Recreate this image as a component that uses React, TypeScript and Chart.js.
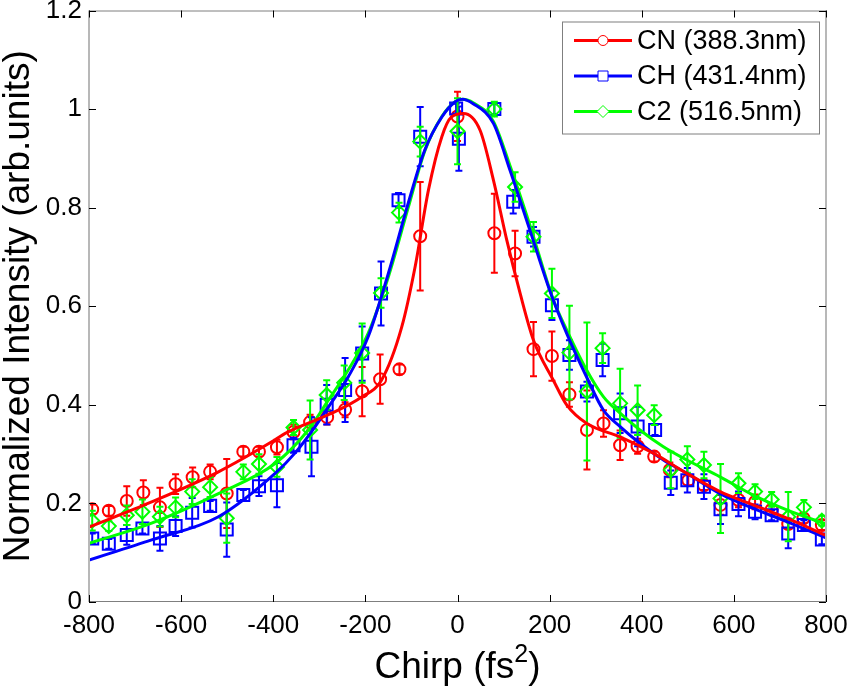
import React, { useEffect, useRef } from "react";
import Chart from "chart.js/auto";

// Measured points (chirp in fs^2, normalized intensity) with their error bars
const cnChirp = [-793, -757, -718, -682, -646, -612, -575, -537, -501, -465, -431, -392, -356, -320, -283, -244, -207, -168, -126, -81, 0, 80, 125, 165, 205, 243, 281, 317, 353, 391, 427, 461, 501, 535, 571, 610, 646, 682, 718, 751, 791];
const cnValues = [0.188, 0.185, 0.205, 0.222, 0.192, 0.239, 0.253, 0.264, 0.22, 0.305, 0.305, 0.314, 0.345, 0.365, 0.375, 0.39, 0.427, 0.452, 0.472, 0.742, 0.985, 0.748, 0.707, 0.513, 0.499, 0.421, 0.349, 0.362, 0.318, 0.316, 0.295, 0.268, 0.247, 0.237, 0.197, 0.207, 0.203, 0.187, 0.158, 0.17, 0.156];
const cnErrors = [0.01, 0.01, 0.03, 0.025, 0.04, 0.02, 0.02, 0.015, 0.07, 0.01, 0.01, 0.015, 0.015, 0.015, 0.015, 0.015, 0.05, 0.05, 0.01, 0.11, 0.05, 0.08, 0.046, 0.055, 0.05, 0.025, 0.08, 0.027, 0.03, 0.015, 0.01, 0.015, 0.01, 0.01, 0.02, 0.015, 0.015, 0.01, 0.01, 0.01, 0.01];

const chChirp = [-793, -757, -718, -684, -646, -612, -576, -537, -501, -465, -431, -392, -356, -317, -284, -244, -207, -166, -128, -81, -3, 3, 80, 121, 165, 205, 243, 281, 315, 353, 391, 429, 463, 499, 535, 571, 610, 646, 682, 718, 752, 791];
const chValues = [0.129, 0.118, 0.136, 0.149, 0.129, 0.154, 0.181, 0.195, 0.147, 0.217, 0.235, 0.237, 0.318, 0.315, 0.4, 0.43, 0.504, 0.626, 0.815, 0.944, 1.001, 0.94, 1.0, 0.812, 0.741, 0.602, 0.501, 0.427, 0.491, 0.383, 0.356, 0.349, 0.242, 0.247, 0.234, 0.188, 0.199, 0.183, 0.176, 0.139, 0.156, 0.127];
const chErrors = [0.01, 0.01, 0.02, 0.01, 0.025, 0.02, 0.03, 0.01, 0.055, 0.01, 0.02, 0.045, 0.015, 0.06, 0.04, 0.065, 0.055, 0.065, 0.015, 0.06, 0.01, 0.065, 0.01, 0.024, 0.02, 0.03, 0.03, 0.02, 0.033, 0.04, 0.04, 0.01, 0.025, 0.025, 0.025, 0.03, 0.025, 0.015, 0.01, 0.03, 0.01, 0.01];

const c2Chirp = [-793, -757, -718, -684, -646, -612, -576, -537, -501, -465, -431, -392, -356, -320, -284, -246, -207, -166, -127, -81, 0, 80, 125, 165, 205, 243, 281, 315, 353, 391, 427, 463, 499, 535, 571, 610, 646, 682, 718, 752, 791];
const c2Values = [0.165, 0.154, 0.176, 0.183, 0.173, 0.192, 0.224, 0.233, 0.17, 0.264, 0.28, 0.274, 0.354, 0.349, 0.42, 0.445, 0.505, 0.627, 0.79, 0.934, 0.955, 1.0, 0.842, 0.741, 0.626, 0.506, 0.427, 0.515, 0.403, 0.389, 0.379, 0.268, 0.289, 0.278, 0.21, 0.241, 0.224, 0.208, 0.173, 0.192, 0.165];
const c2Errors = [0.02, 0.01, 0.02, 0.025, 0.02, 0.02, 0.025, 0.02, 0.05, 0.015, 0.02, 0.02, 0.015, 0.06, 0.03, 0.035, 0.06, 0.03, 0.02, 0.03, 0.067, 0.015, 0.03, 0.03, 0.05, 0.095, 0.14, 0.03, 0.07, 0.05, 0.02, 0.037, 0.027, 0.027, 0.07, 0.02, 0.015, 0.015, 0.05, 0.015, 0.01];

// Fitted curves
const cnFitChirp = [-800, -664, -519, -396, -374, -273, -208, -165, -121, -92, -63, -34, -13, 13, 49, 78, 107, 136, 165, 208, 237, 281, 353, 425, 498, 570, 642, 715, 800];
const cnFitValues = [0.152, 0.203, 0.264, 0.329, 0.342, 0.383, 0.416, 0.45, 0.558, 0.68, 0.836, 0.944, 0.984, 0.991, 0.957, 0.856, 0.734, 0.626, 0.531, 0.45, 0.4, 0.362, 0.335, 0.302, 0.261, 0.224, 0.197, 0.17, 0.135];

const chFitChirp = [-800, -664, -519, -396, -353, -309, -280, -237, -194, -150, -107, -71, -34, -5, 10, 34, 78, 114, 157, 201, 237, 280, 317, 353, 396, 447, 498, 570, 642, 715, 800];
const chFitValues = [0.085, 0.126, 0.173, 0.261, 0.302, 0.356, 0.396, 0.457, 0.538, 0.667, 0.809, 0.917, 0.984, 1.015, 1.02, 1.011, 0.971, 0.876, 0.755, 0.63, 0.545, 0.457, 0.389, 0.356, 0.322, 0.288, 0.261, 0.22, 0.19, 0.163, 0.13];

const c2FitChirp = [-800, -664, -519, -396, -324, -280, -237, -194, -150, -107, -71, -34, -5, 12, 34, 78, 114, 157, 208, 237, 280, 317, 353, 396, 447, 498, 570, 642, 715, 800];
const c2FitValues = [0.119, 0.16, 0.22, 0.281, 0.349, 0.41, 0.471, 0.545, 0.66, 0.8, 0.915, 0.985, 1.015, 1.02, 1.013, 0.975, 0.885, 0.765, 0.613, 0.552, 0.471, 0.416, 0.383, 0.349, 0.315, 0.288, 0.254, 0.217, 0.187, 0.158];

const seriesLabels = ["CN (388.3nm)", "CH (431.4nm)", "C2 (516.5nm)"];
const seriesColors = ["#ff0000", "#0000ff", "#00ff00"];
const seriesMarkers = ["circle", "rect", "rectRot"];

const FONT = "'Liberation Sans', Arial, Helvetica, sans-serif";

function toPoints(xs: number[], ys: number[]) {
  return xs.map((x, i) => ({ x, y: ys[i] }));
}

// MATLAB-style vertical error bars, drawn just under each marker dataset
const errorBarPlugin = {
  id: "errorBars",
  beforeDatasetDraw(chart: any, args: any) {
    const ds = chart.data.datasets[args.index];
    if (!ds.errors) return;
    const { ctx } = chart;
    const xs = chart.scales.x;
    const ys = chart.scales.y;
    ctx.save();
    ctx.strokeStyle = ds.borderColor;
    ctx.lineWidth = 2;
    ds.data.forEach((p: { x: number; y: number }, i: number) => {
      const e = ds.errors[i];
      const px = xs.getPixelForValue(p.x);
      const top = ys.getPixelForValue(p.y + e);
      const bot = ys.getPixelForValue(p.y - e);
      ctx.beginPath();
      ctx.moveTo(px, top);
      ctx.lineTo(px, bot);
      ctx.moveTo(px - 3.5, top);
      ctx.lineTo(px + 3.5, top);
      ctx.moveTo(px - 3.5, bot);
      ctx.lineTo(px + 3.5, bot);
      ctx.stroke();
    });
    ctx.restore();
  },
};

// Box around the axes with inward ticks on all four sides
const axesBoxPlugin = {
  id: "axesBox",
  afterDatasetsDraw(chart: any) {
    const { ctx, chartArea: a } = chart;
    const xs = chart.scales.x;
    const ys = chart.scales.y;
    ctx.save();
    ctx.strokeStyle = "#b8b8b8";
    ctx.lineWidth = 2;
    ctx.beginPath();
    ctx.moveTo(a.left, a.top);
    ctx.lineTo(a.left, a.bottom);
    ctx.moveTo(a.right, a.top);
    ctx.lineTo(a.right, a.bottom);
    ctx.stroke();
    ctx.strokeStyle = "#7f7f7f";
    ctx.lineWidth = 1;
    ctx.beginPath();
    ctx.moveTo(a.left, a.top + 0.5);
    ctx.lineTo(a.right, a.top + 0.5);
    ctx.moveTo(a.left, a.bottom - 0.5);
    ctx.lineTo(a.right, a.bottom - 0.5);
    ctx.stroke();
    ctx.strokeStyle = "#000";
    ctx.beginPath();
    const len = 7;
    xs.ticks.forEach((t: any) => {
      const px = Math.round(xs.getPixelForValue(t.value)) + 0.5;
      ctx.moveTo(px, a.bottom);
      ctx.lineTo(px, a.bottom - len);
      ctx.moveTo(px, a.top);
      ctx.lineTo(px, a.top + len);
    });
    ys.ticks.forEach((t: any) => {
      const py = Math.round(ys.getPixelForValue(t.value)) + 0.5;
      ctx.moveTo(a.left, py);
      ctx.lineTo(a.left + len, py);
      ctx.moveTo(a.right, py);
      ctx.lineTo(a.right - len, py);
    });
    ctx.stroke();
    ctx.restore();
  },
};

// x-axis title with a real raised superscript, centred under the plot
const xTitlePlugin = {
  id: "xTitle",
  afterDraw(chart: any) {
    const { ctx, chartArea: a } = chart;
    const main = `37px ${FONT}`;
    const sup = `25px ${FONT}`;
    const parts = [
      { text: "Chirp (fs", font: main, dy: 0 },
      { text: "2", font: sup, dy: -16 },
      { text: ")", font: main, dy: 0 },
    ];
    ctx.save();
    ctx.fillStyle = "#000";
    ctx.textBaseline = "alphabetic";
    ctx.textAlign = "left";
    const widths = parts.map((p) => {
      ctx.font = p.font;
      return ctx.measureText(p.text).width;
    });
    const total = widths.reduce((s, w) => s + w, 0);
    let x = (a.left + a.right) / 2 - total / 2;
    const baseline = a.bottom + 76;
    parts.forEach((p, i) => {
      ctx.font = p.font;
      ctx.fillText(p.text, x, baseline + p.dy);
      x += widths[i];
    });
    ctx.restore();
  },
};

// Boxed legend in the upper right: line sample with a thin marker
const boxLegendPlugin = {
  id: "boxLegend",
  afterDraw(chart: any) {
    const { ctx, chartArea: a } = chart;
    const left = a.right - 264;
    const top = a.top + 11;
    const w = 257;
    const h = 112;
    ctx.save();
    ctx.fillStyle = "#fff";
    ctx.fillRect(left, top, w, h);
    ctx.strokeStyle = "#7f7f7f";
    ctx.lineWidth = 1;
    ctx.strokeRect(left + 0.5, top + 0.5, w, h);
    seriesLabels.forEach((label, i) => {
      const cy = top + 19 + i * 35.5;
      const mx = left + 41;
      ctx.strokeStyle = seriesColors[i];
      ctx.lineWidth = 3;
      ctx.beginPath();
      ctx.moveTo(left + 12, cy);
      ctx.lineTo(left + 70, cy);
      ctx.stroke();
      ctx.lineWidth = 1;
      ctx.beginPath();
      if (seriesMarkers[i] === "circle") {
        ctx.arc(mx, cy, 5, 0, Math.PI * 2);
      } else if (seriesMarkers[i] === "rect") {
        ctx.rect(mx - 5, cy - 5, 10, 10);
      } else {
        ctx.moveTo(mx, cy - 6);
        ctx.lineTo(mx + 6, cy);
        ctx.lineTo(mx, cy + 6);
        ctx.lineTo(mx - 6, cy);
        ctx.closePath();
      }
      ctx.fillStyle = "#fff";
      ctx.fill();
      ctx.stroke();
      ctx.fillStyle = "#000";
      ctx.font = `27px ${FONT}`;
      ctx.textBaseline = "middle";
      ctx.textAlign = "left";
      ctx.fillText(label, left + 75, cy + 1);
    });
    ctx.restore();
  },
};

export default function App() {
  const canvasRef = useRef<HTMLCanvasElement>(null);

  useEffect(() => {
    document.body.style.margin = "0";
    document.body.style.background = "#fff";
    if (!canvasRef.current) return;

    const markerSet = (i: number, xs: number[], ys: number[], errs: number[], radius: number) => ({
      label: seriesLabels[i],
      data: toPoints(xs, ys),
      errors: errs,
      borderColor: seriesColors[i],
      backgroundColor: "rgba(0,0,0,0)",
      pointStyle: seriesMarkers[i],
      pointRadius: radius,
      pointBorderWidth: 2,
      showLine: false,
      order: 3 + (2 - i),
    });

    const fitSet = (i: number, xs: number[], ys: number[]) => ({
      label: seriesLabels[i] + " fit",
      data: toPoints(xs, ys),
      borderColor: seriesColors[i],
      backgroundColor: seriesColors[i],
      borderWidth: 3,
      pointRadius: 0,
      showLine: true,
      cubicInterpolationMode: "monotone",
      order: i,
    });

    const chart = new Chart(canvasRef.current, {
      type: "scatter",
      data: {
        datasets: [
          fitSet(0, cnFitChirp, cnFitValues),
          fitSet(1, chFitChirp, chFitValues),
          fitSet(2, c2FitChirp, c2FitValues),
          markerSet(0, cnChirp, cnValues, cnErrors, 6),
          markerSet(1, chChirp, chValues, chErrors, 8.5),
          markerSet(2, c2Chirp, c2Values, c2Errors, 7),
        ] as any,
      },
      options: {
        responsive: true,
        maintainAspectRatio: false,
        animation: false,
        events: [],
        layout: { padding: { left: 0, top: 10, right: 24, bottom: 0 } },
        plugins: {
          legend: { display: false },
          tooltip: { enabled: false },
        },
        scales: {
          x: {
            type: "linear",
            min: -800,
            max: 800,
            afterFit: (scale: any) => {
              // fixed axis band; don't let edge labels push the plot inward
              scale.height = 86;
              scale.paddingLeft = 0;
              scale.paddingRight = 0;
            },
            grid: { display: false, drawTicks: false },
            border: { display: false },
            ticks: {
              stepSize: 200,
              padding: 8,
              color: "#000",
              maxRotation: 0,
              font: { family: FONT, size: 26 },
              callback: (v: any) => String(v),
            },
            title: { display: false },
          },
          y: {
            type: "linear",
            min: 0,
            max: 1.2,
            afterFit: (scale: any) => {
              scale.width = 89;
              scale.paddingTop = 0;
              scale.paddingBottom = 0;
            },
            grid: { display: false, drawTicks: false },
            border: { display: false },
            ticks: {
              stepSize: 0.2,
              padding: 7,
              color: "#000",
              font: { family: FONT, size: 26 },
              callback: (v: any) => String(Math.round(Number(v) * 10) / 10),
            },
            title: {
              display: true,
              text: "Normalized Intensity (arb.units)",
              color: "#000",
              padding: { top: 0, bottom: 0 },
              font: { family: FONT, size: 37, lineHeight: 1 },
            },
          },
        },
      },
      plugins: [errorBarPlugin, axesBoxPlugin, xTitlePlugin, boxLegendPlugin],
    } as any);

    return () => chart.destroy();
  }, []);

  return (
    <div style={{ width: 850, height: 688, position: "relative", background: "#fff" }}>
      <canvas ref={canvasRef} />
    </div>
  );
}
